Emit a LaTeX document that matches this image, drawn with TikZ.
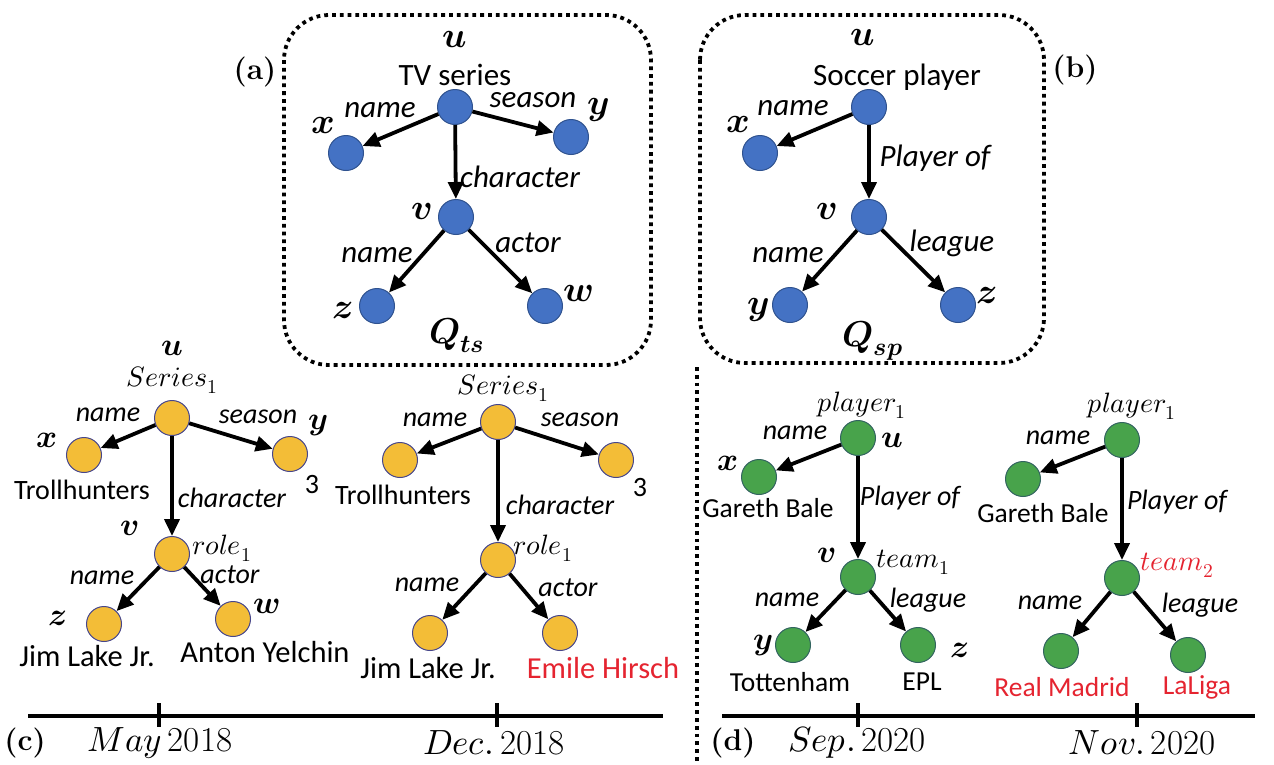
\documentclass[tikz,border=0pt]{standalone}
\usepackage{fontspec}
\usepackage{unicode-math}
\setmathfont{Latin Modern Math}
\usetikzlibrary{arrows.meta}
\newfontfamily\calib{Carlito}
\definecolor{nblue}{RGB}{68,114,196}
\definecolor{nblueb}{RGB}{47,82,143}
\definecolor{nyel}{RGB}{243,189,55}
\definecolor{nyelb}{RGB}{70,70,140}
\definecolor{ngreen}{RGB}{72,163,75}
\definecolor{ngreenb}{RGB}{50,100,95}
\definecolor{tred}{RGB}{229,36,48}
\tikzset{
  bn/.style={circle,fill=nblue,draw=nblueb,line width=1pt,minimum size=35pt,inner sep=0pt},
  yn/.style={bn,fill=nyel,draw=nyelb},
  gn/.style={bn,fill=ngreen,draw=ngreenb},
  arr/.style={-{Triangle[length=17pt,width=15pt]},line width=3.8pt},
  txA/.style={font=\calib\fontsize{31}{31}\selectfont,inner sep=0pt},
  elA/.style={font=\calib\itshape\fontsize{31}{31}\selectfont,inner sep=0pt},
  mlA/.style={font=\fontsize{36}{36}\selectfont,inner sep=0pt},
  txC/.style={font=\calib\fontsize{28}{28}\selectfont,inner sep=0pt},
  txCb/.style={font=\calib\fontsize{30.5}{30.5}\selectfont,inner sep=0pt},
  elC/.style={font=\calib\itshape\fontsize{28}{28}\selectfont,inner sep=0pt},
  mlC/.style={font=\fontsize{32}{32}\selectfont,inner sep=0pt},
  txD/.style={font=\calib\fontsize{27.5}{27.5}\selectfont,inner sep=0pt},
  elD/.style={font=\calib\itshape\fontsize{28}{28}\selectfont,inner sep=0pt},
  tl/.style={font=\fontsize{30}{30}\selectfont,inner sep=0pt},
  dl/.style={font=\fontsize{35}{35}\selectfont,inner sep=0pt},
  dotbox/.style={line width=3.8pt,dash pattern=on 3.8pt off 4pt,rounded corners=45pt},
  tline/.style={line width=4pt},
}
\begin{document}
\begin{tikzpicture}[x=1pt,y=-1pt]
\useasboundingbox[fill=white] (0,0) rectangle (1274,764);
% ---------- (a) ----------
\draw[dotbox] (284,15) rectangle (651,365);
\node[bn] (au) at (455,107) {};
\node[bn] (ax) at (346,153) {};
\node[bn] (ay) at (571,137) {};
\node[bn] (av) at (456,217) {};
\node[bn] (az) at (377,306) {};
\node[bn] (aw) at (545,306) {};
\draw[arr] (au) -- (ax);
\draw[arr] (au) -- (ay);
\draw[arr] (au) -- (av);
\draw[arr] (av) -- (az);
\draw[arr] (av) -- (aw);
\node[mlA] (aul) at (455,40) {$\symbfit{u}$};
\node[txA] (aut) at (455,75) {TV series};
\node[tl] (alab) at (255,72) {\textbf{(a)}};
\node[elA] (ae1) at (380,110) {name};
\node[elA] (ae2) at (533,100) {season};
\node[mlA] (axl) at (323,126) {$\symbfit{x}$};
\node[mlA] (ayl) at (598,110) {$\symbfit{y}$};
\node[elA] (ae3) at (520,177) {character};
\node[mlA] (avl) at (422,211) {$\symbfit{v}$};
\node[elA] (ae4) at (377,255) {name};
\node[elA] (ae5) at (528,243) {actor};
\node[mlA] (azl) at (343,311) {$\symbfit{z}$};
\node[mlA] (awl) at (578,293) {$\symbfit{w}$};
\node[mlA] (aq) at (457,335) {$\symbfit{Q}_{\symbfit{ts}}$};
% ---------- (b) ----------
\draw[dotbox] (700,15) rectangle (1044,363);
\node[bn] (bu) at (869,107) {};
\node[bn] (bx) at (760,153) {};
\node[bn] (bv) at (869,217) {};
\node[bn] (by) at (790,305) {};
\node[bn] (bz) at (958,305) {};
\draw[arr] (bu) -- (bx);
\draw[arr] (bu) -- (bv);
\draw[arr] (bv) -- (by);
\draw[arr] (bv) -- (bz);
\node[mlA] (bul) at (863,38) {$\symbfit{u}$};
\node[txA] (but) at (897,77) {Soccer player};
\node[tl] (blab) at (1075,70) {\textbf{(b)}};
\node[elA] (be1) at (793,108) {name};
\node[mlA] (bxl) at (738,125) {$\symbfit{x}$};
\node[elA] (be2) at (935,158) {Player of};
\node[mlA] (bvl) at (827,211) {$\symbfit{v}$};
\node[elA] (be3) at (788,255) {name};
\node[elA] (be4) at (952,243) {league};
\node[mlA] (byl) at (758,310) {$\symbfit{y}$};
\node[mlA] (bzl) at (987,295) {$\symbfit{z}$};
\node[mlA] (bq) at (873,341) {$\symbfit{Q}_{\symbfit{sp}}$};
% ---------- (c) left ----------
\node[yn] (cu) at (172,418) {};
\node[yn] (cx) at (84,455) {};
\node[yn] (cy) at (290,454) {};
\node[yn] (cv) at (172,554) {};
\node[yn] (cz) at (104,624) {};
\node[yn] (cw) at (233,619) {};
\draw[arr] (cu) -- (cx);
\draw[arr] (cu) -- (cy);
\draw[arr] (cu) -- (cv);
\draw[arr] (cv) -- (cz);
\draw[arr] (cv) -- (cw);
\node[mlC] (cul) at (172,348) {$\symbfit{u}$};
\node[txC] (cus) at (172,380) {$Series_1$};
\node[elC] (ce1) at (108,415) {name};
\node[elC] (ce2) at (258,417) {season};
\node[mlC] (cxl) at (47,440) {$\symbfit{x}$};
\node[mlC] (cyl) at (318,425) {$\symbfit{y}$};
\node[txC] (cxt) at (82,490) {Trollhunters};
\node[txC] (cyt) at (312,485) {3};
\node[elC] (ce3) at (232,498) {character};
\node[mlC] (cvl) at (130,528) {$\symbfit{v}$};
\node[txC] (cvs) at (222,548) {$role_1$};
\node[elC] (ce4) at (102,578) {name};
\node[elC] (ce5) at (230,575) {actor};
\node[mlC] (czl) at (58,618) {$\symbfit{z}$};
\node[mlC] (cwl) at (267,606) {$\symbfit{w}$};
\node[txCb] (czt) at (87,656) {Jim Lake Jr.};
\node[txCb] (cwt) at (265,652) {Anton Yelchin};
% ---------- (c) right ----------
\node[yn] (ku) at (498,422) {};
\node[yn] (kx) at (400,460) {};
\node[yn] (ky) at (616,460) {};
\node[yn] (kv) at (498,560) {};
\node[yn] (kz) at (430,633) {};
\node[yn] (kw) at (560,633) {};
\draw[arr] (ku) -- (kx);
\draw[arr] (ku) -- (ky);
\draw[arr] (ku) -- (kv);
\draw[arr] (kv) -- (kz);
\draw[arr] (kv) -- (kw);
\node[txC] (kus) at (503,388) {$Series_1$};
\node[elC] (ke1) at (435,420) {name};
\node[elC] (ke2) at (580,420) {season};
\node[txC] (kxt) at (403,495) {Trollhunters};
\node[txC] (kyt) at (640,488) {3};
\node[elC] (ke3) at (560,505) {character};
\node[txC] (kvs) at (543,548) {$role_1$};
\node[elC] (ke4) at (427,585) {name};
\node[elC] (ke5) at (568,588) {actor};
\node[txCb] (kzt) at (428,668) {Jim Lake Jr.};
\node[txCb,text=tred] (kwt) at (603,668) {Emile Hirsch};
% ---------- (d) left ----------
\node[gn] (du) at (858,438) {};
\node[gn] (dx) at (759,477) {};
\node[gn] (dv) at (858,577) {};
\node[gn] (dy) at (793,645) {};
\node[gn] (dz) at (918,645) {};
\draw[arr] (du) -- (dx);
\draw[arr] (du) -- (dv);
\draw[arr] (dv) -- (dy);
\draw[arr] (dv) -- (dz);
\node[txC] (dus) at (862,405) {$player_1$};
\node[mlC] (dul) at (892,440) {$\symbfit{u}$};
\node[elD] (de1) at (795,433) {name};
\node[mlC] (dxl) at (728,463) {$\symbfit{x}$};
\node[txD] (dxt) at (768,508) {Gareth Bale};
\node[elD] (de2) at (910,498) {Player of};
\node[mlC] (dvl) at (827,555) {$\symbfit{v}$};
\node[txC] (dvs) at (913,562) {$team_1$};
\node[elD] (de3) at (787,600) {name};
\node[elD] (de4) at (928,600) {league};
\node[mlC] (dyl) at (763,645) {$\symbfit{y}$};
\node[mlC] (dzl) at (960,650) {$\symbfit{z}$};
\node[txD] (dyt) at (790,682) {Tottenham};
\node[txD] (dzt) at (922,682) {EPL};
% ---------- (d) right ----------
\node[gn] (eu) at (1122,440) {};
\node[gn] (ex) at (1023,479) {};
\node[gn] (ev) at (1122,578) {};
\node[gn] (ey) at (1061,651) {};
\node[gn] (ez) at (1188,655) {};
\draw[arr] (eu) -- (ex);
\draw[arr] (eu) -- (ev);
\draw[arr] (ev) -- (ey);
\draw[arr] (ev) -- (ez);
\node[txC] (eus) at (1132,406) {$player_1$};
\node[elD] (ee1) at (1058,438) {name};
\node[txD] (ext) at (1043,513) {Gareth Bale};
\node[elD] (ee2) at (1177,502) {Player of};
\node[txC,text=tred] (evs) at (1177,565) {$team_2$};
\node[elD] (ee3) at (1050,603) {name};
\node[elD] (ee4) at (1200,605) {league};
\node[txD,text=tred] (eyt) at (1062,687) {Real Madrid};
\node[txD,text=tred] (ezt) at (1197,687) {LaLiga};
% ---------- separator ----------
\coordinate (sepT) at (697,367);
\coordinate (sepB) at (697,764);
\draw[line width=3.8pt,dash pattern=on 3.8pt off 4pt] (sepT) -- (sepB);
% ---------- timelines ----------
\coordinate (t1a) at (28,716);
\coordinate (t1b) at (663,716);
\coordinate (t2a) at (722,716);
\coordinate (t2b) at (1255,716);
\draw[tline] (t1a) -- (t1b);
\draw[tline] (t2a) -- (t2b);
\foreach \xx in {159,497,858,1137} {\draw[tline] (\xx,703) -- (\xx,727);}
\node[tl] (clab) at (25,743) {\textbf{(c)}};
\node[dl] (m1) at (160,743) {$May$\,2018};
\node[dl] (m2) at (494,743) {$Dec.$\,2018};
\node[tl] (dlab) at (733,743) {\textbf{(d)}};
\node[dl] (m3) at (857,743) {$Sep.$\,2020};
\node[dl] (m4) at (1142,743) {$Nov.$\,2020};
\end{tikzpicture}
\end{document}
